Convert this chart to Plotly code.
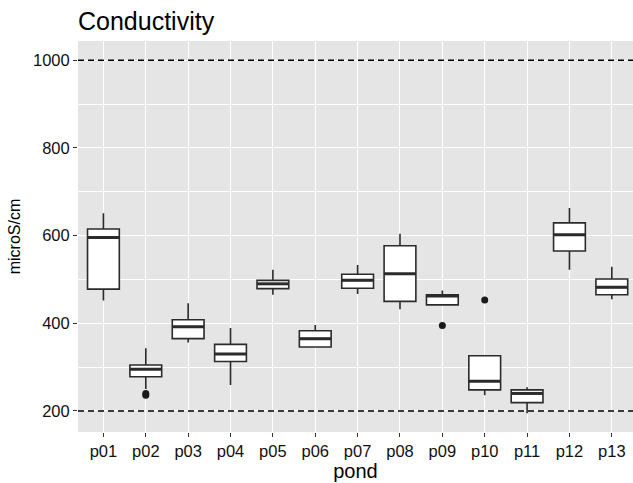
import plotly.graph_objects as go

ponds = ["p01", "p02", "p03", "p04", "p05", "p06", "p07", "p08", "p09", "p10", "p11", "p12", "p13"]
lower_whisker = [452, 250, 356, 259, 465, 345, 467, 432, 441, 236, 195, 522, 455]
q1 = [478, 278, 365, 313, 479, 346, 480, 450, 442, 248, 219, 565, 465]
median = [596, 295, 392, 330, 490, 365, 498, 513, 462, 268, 240, 602, 482]
q3 = [615, 305, 408, 352, 498, 383, 512, 577, 465, 326, 248, 629, 501]
upper_whisker = [651, 343, 446, 389, 522, 396, 533, 604, 475, 326, 254, 663, 529]
outlier_pond = ["p02", "p02", "p09", "p10"]
outlier_value = [240, 236, 395, 453]
ref_lines = [200, 1000]
y_ticks = [200, 400, 600, 800, 1000]

FONT = "Liberation Sans, Arial, sans-serif"
BOX_COLOR = "#2b2b2b"
idx = {p: i for i, p in enumerate(ponds)}
half = 0.375

fig = go.Figure()
for i, p in enumerate(ponds):
    fig.add_trace(go.Box(
        x=[i], q1=[q1[i]], median=[median[i]], q3=[q3[i]],
        lowerfence=[lower_whisker[i]], upperfence=[upper_whisker[i]],
        width=2 * half, fillcolor="white",
        line=dict(color=BOX_COLOR, width=1.6),
        whiskerwidth=0, boxpoints=False, showlegend=False, hoverinfo="skip",
    ))

mx, my = [], []
for i, m in enumerate(median):
    mx += [i - half, i + half, None]
    my += [m, m, None]
fig.add_trace(go.Scatter(x=mx, y=my, mode="lines",
                         line=dict(color=BOX_COLOR, width=3),
                         showlegend=False, hoverinfo="skip"))

fig.add_trace(go.Scatter(
    x=[idx[p] for p in outlier_pond], y=outlier_value, mode="markers",
    marker=dict(color="#1a1a1a", size=7), showlegend=False, hoverinfo="skip"))

for v in ref_lines:
    fig.add_shape(type="line", xref="paper", x0=0, x1=1, yref="y", y0=v, y1=v,
                  line=dict(color="black", width=1.4, dash="6px,4px"))

fig.update_layout(
    width=633, height=483,
    margin=dict(l=78, r=0, t=41, b=51),
    paper_bgcolor="white", plot_bgcolor="#E5E5E5",
    font=dict(family=FONT, color="#111111"),
    title=dict(text="Conductivity", x=0, xref="paper", xanchor="left",
               y=0.955, yref="container", yanchor="middle",
               font=dict(size=25, color="black", family=FONT)),
    xaxis=dict(
        range=[-0.6, 12.5], tickmode="array", tickvals=list(range(len(ponds))),
        ticktext=ponds, showgrid=True, gridcolor="white", gridwidth=1.3,
        zeroline=False, ticks="outside", ticklen=4, tickcolor="#333333",
        tickfont=dict(size=16.5, color="#111111"),
        title=dict(text="pond", font=dict(size=20, color="black"), standoff=3),
    ),
    yaxis=dict(
        range=[152, 1044], tickmode="array", tickvals=y_ticks,
        showgrid=True, gridcolor="white", gridwidth=1.3, zeroline=False,
        ticks="outside", ticklen=4, tickcolor="#333333",
        tickfont=dict(size=16.5, color="#111111"),
        minor=dict(tickmode="array", tickvals=[300, 500, 700, 900],
                   showgrid=True, gridcolor="white", gridwidth=0.6, ticks=""),
        title=dict(text="microS/cm", font=dict(size=16, color="black"), standoff=8),
    ),
)

fig.write_html("out.html")
